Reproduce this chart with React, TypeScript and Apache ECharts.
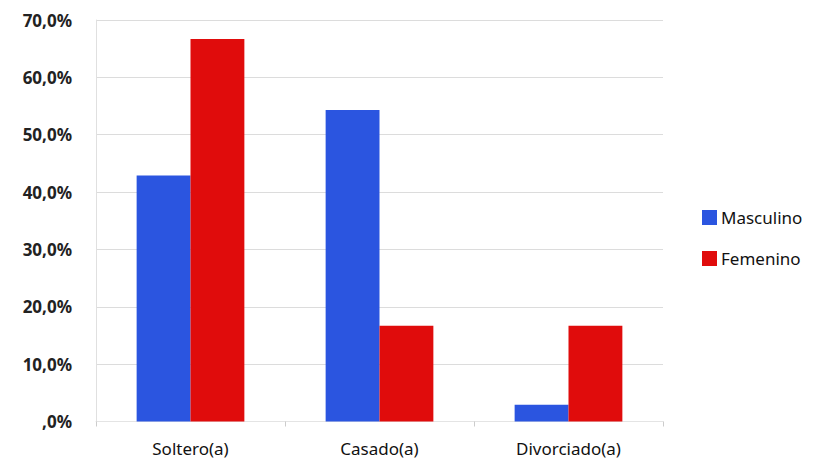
import React, { useEffect, useRef } from "react";
import * as echarts from "echarts";

const categories = ["Soltero(a)", "Casado(a)", "Divorciado(a)"];
const masculino = [42.9, 54.3, 2.9];
const femenino = [66.7, 16.7, 16.7];
const seriesNames = ["Masculino", "Femenino"];

const fmt = (v: number) => (v === 0 ? ",0%" : v.toFixed(1).replace(".", ",") + "%");

export default function App() {
  const ref = useRef<HTMLDivElement>(null);
  useEffect(() => {
    if (!ref.current) return;
    const chart = echarts.init(ref.current, null, { renderer: "svg" });
    chart.setOption({
      animation: false,
      backgroundColor: "#ffffff",
      grid: { left: 96, right: 157, top: 20, bottom: 39.5, containLabel: false },
      legend: {
        orient: "vertical",
        left: 697,
        top: 204,
        itemWidth: 15,
        itemHeight: 15,
        itemGap: 24,
        icon: "rect",
        data: seriesNames,
        textStyle: { fontFamily: "Noto Sans", fontSize: 17, color: "#111", padding: [0, 0, 0, -1] },
      },
      xAxis: {
        type: "category",
        data: categories,
        axisLine: { show: true, lineStyle: { color: "#e4e4e4" } },
        axisTick: { show: true, alignWithLabel: false, length: 5, lineStyle: { color: "#cccccc" } },
        axisLabel: { fontFamily: "Noto Sans", fontSize: 17, color: "#111", margin: 18 },
      },
      yAxis: {
        type: "value",
        min: 0,
        max: 70,
        interval: 10,
        axisLine: { show: true, lineStyle: { color: "#e0e0e0" } },
        axisTick: { show: false },
        splitLine: { lineStyle: { color: "#dcdcdc" } },
        axisLabel: {
          fontFamily: "Noto Sans",
          fontSize: 17,
          fontWeight: "bold",
          color: "#222",
          margin: 24,
          formatter: fmt,
        },
      },
      series: [
        {
          name: seriesNames[0],
          type: "bar",
          data: masculino,
          barGap: "0%",
          barCategoryGap: "43%",
          itemStyle: { color: "#2b55e0" },
        },
        {
          name: seriesNames[1],
          type: "bar",
          data: femenino,
          itemStyle: { color: "#e00c0c" },
        },
      ],
    });
    return () => chart.dispose();
  }, []);
  return <div ref={ref} style={{ width: 820, height: 461, position: "absolute", left: 0, top: 0 }} />;
}
